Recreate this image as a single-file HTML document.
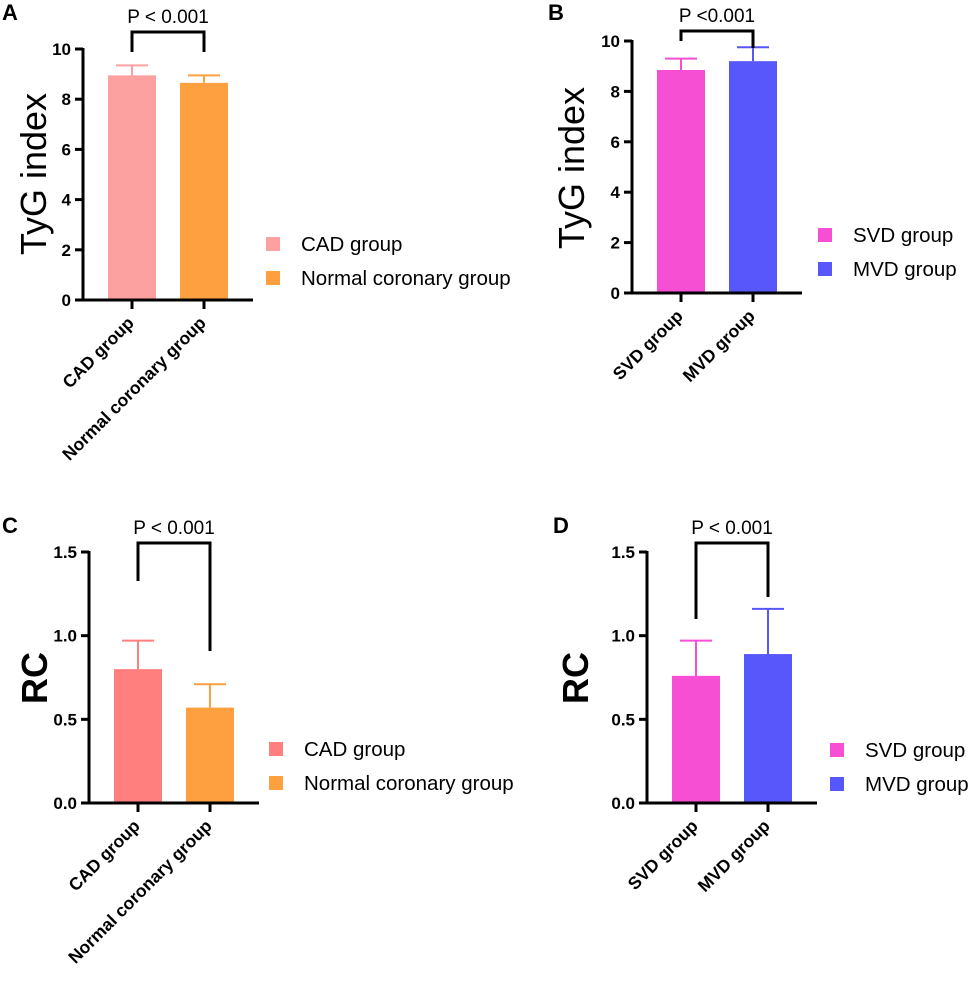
<!DOCTYPE html>
<html><head><meta charset="utf-8"><style>
body{margin:0;background:#fff}
svg{display:block;font-family:"Liberation Sans",Arial,sans-serif}
</style></head><body>
<svg id="fig" width="972" height="986" viewBox="0 0 972 986"></svg>
<script>
// Panel data
const catsA = ["CAD group","Normal coronary group"];
const valsA = [8.95, 8.65];
const errA = [9.35, 8.95];
const catsB = ["SVD group","MVD group"];
const valsB = [8.85, 9.2];
const errB = [9.3, 9.75];
const catsC = ["CAD group","Normal coronary group"];
const valsC = [0.80, 0.57];
const errC = [0.97, 0.71];
const catsD = ["SVD group","MVD group"];
const valsD = [0.76, 0.89];
const errD = [0.97, 1.16];
const ticksTyG = [0,2,4,6,8,10];
const ticksRC = [0,0.5,1.0,1.5];
const tickLabelsRC = ["0.0","0.5","1.0","1.5"];

const NS="http://www.w3.org/2000/svg";
const svg=document.getElementById('fig');
function mk(tag,attrs,parent,text){const e=document.createElementNS(NS,tag);for(const k in attrs)e.setAttribute(k,attrs[k]);if(text!==undefined)e.textContent=text;(parent||svg).appendChild(e);return e;}

function panel(o){
  const g=mk('g',{});
  
  
  const y=v=>o.y0-(v-o.ymin)/(o.ymax-o.ymin)*(o.y0-o.y1);
  const xs=[o.ax+49,o.ax+121];
  const L=mk('text',{x:o.lx,y:o.ly,'font-size':22,'font-weight':'bold'},g,o.id);
  
  
  o.vals.forEach((v,i)=>{
    const r=mk('rect',{x:xs[i]-24,y:y(v),width:48,height:o.y0-y(v),fill:o.colors[i]},g);
    
    
    const e=mk('path',{d:`M${xs[i]} ${y(v)}V${y(o.err[i])}M${xs[i]-16} ${y(o.err[i])}H${xs[i]+16}`,stroke:o.colors[i],'stroke-width':2,fill:'none'},g);
    
    
  });
  const ax=mk('path',{d:`M${o.ax} ${o.y1-1}V${o.y0}H${o.ax+170}`,stroke:'#000','stroke-width':3,fill:'none'},g);
  
  
  o.ticks.forEach((t,i)=>{
    const tk=mk('line',{x1:o.ax-8,x2:o.ax,y1:y(t),y2:y(t),stroke:'#000','stroke-width':3},g);
    
    
    const tl=mk('text',{x:o.ax-12,y:y(t)+6,'font-size':17,'font-weight':'bold','text-anchor':'end'},g,o.tickLabels[i]);
    
    
  });
  xs.forEach((x,i)=>{
    const tk=mk('line',{x1:x,x2:x,y1:o.y0,y2:o.y0+9,stroke:'#000','stroke-width':3},g);
    
    
    const tl=mk('text',{x:x+3,y:o.y0+24,'font-size':17.5,'font-weight':'bold','text-anchor':'end',transform:`rotate(-45 ${x+3} ${o.y0+24})`},g,o.cats[i]);
    
    
  });
  const yt=mk('text',{x:o.ytx,y:o.yty,'font-size':o.ytSize,'font-weight':o.ytBold?'bold':'normal','text-anchor':'middle',transform:`rotate(-90 ${o.ytx} ${o.yty})`},g,o.yTitle);
  
  
  const br=mk('path',{d:`M${xs[0]} ${o.bl}V${o.bt}H${xs[1]}V${o.br}`,stroke:'#000','stroke-width':3,fill:'none'},g);
  
  
  const pt=mk('text',{x:(xs[0]+xs[1])/2,y:o.bt-9,'font-size':19,'text-anchor':'middle'},g,o.ptext);
  
  
  o.cats.forEach((c,i)=>{
    const lg=mk('g',{},g);
    
    
    mk('rect',{x:o.legx,y:o.legy+i*34,width:14,height:14,fill:o.colors[i]},lg);
    mk('text',{x:o.legx+35,y:o.legy+i*34+14,'font-size':20.5},lg,c);
  });
}
panel({id:'A',cats:catsA,vals:valsA,err:errA,colors:['#fca0a0','#ffa040'],ax:83,y0:300,y1:49,ymin:0,ymax:10,ticks:ticksTyG,tickLabels:ticksTyG.map(String),
  lx:2,ly:20,ytx:46,yty:174,ytSize:36,ytBold:false,yTitle:'TyG index',bt:32,bl:52,br:52,ptext:'P < 0.001',legx:266,legy:237});
panel({id:'B',cats:catsB,vals:valsB,err:errB,colors:['#f64fd4','#5757fb'],ax:632,y0:293,y1:41,ymin:0,ymax:10,ticks:ticksTyG,tickLabels:ticksTyG.map(String),
  lx:548,ly:20,ytx:584,yty:168,ytSize:36,ytBold:false,yTitle:'TyG index',bt:31,bl:41,br:48,ptext:'P <0.001',legx:818,legy:228});
panel({id:'C',cats:catsC,vals:valsC,err:errC,colors:['#ff7f7f','#ffa040'],ax:89,y0:803,y1:552,ymin:0,ymax:1.5,ticks:ticksRC,tickLabels:tickLabelsRC,
  lx:2,ly:533,ytx:47,yty:678,ytSize:36,ytBold:true,yTitle:'RC',bt:543,bl:581,br:651,ptext:'P < 0.001',legx:269,legy:742});
panel({id:'D',cats:catsD,vals:valsD,err:errD,colors:['#f64fd4','#5757fb'],ax:647,y0:803,y1:552,ymin:0,ymax:1.5,ticks:ticksRC,tickLabels:tickLabelsRC,
  lx:553,ly:533,ytx:588,yty:678,ytSize:36,ytBold:true,yTitle:'RC',bt:543,bl:619,br:597,ptext:'P < 0.001',legx:830,legy:743});
</script>
</body></html>
